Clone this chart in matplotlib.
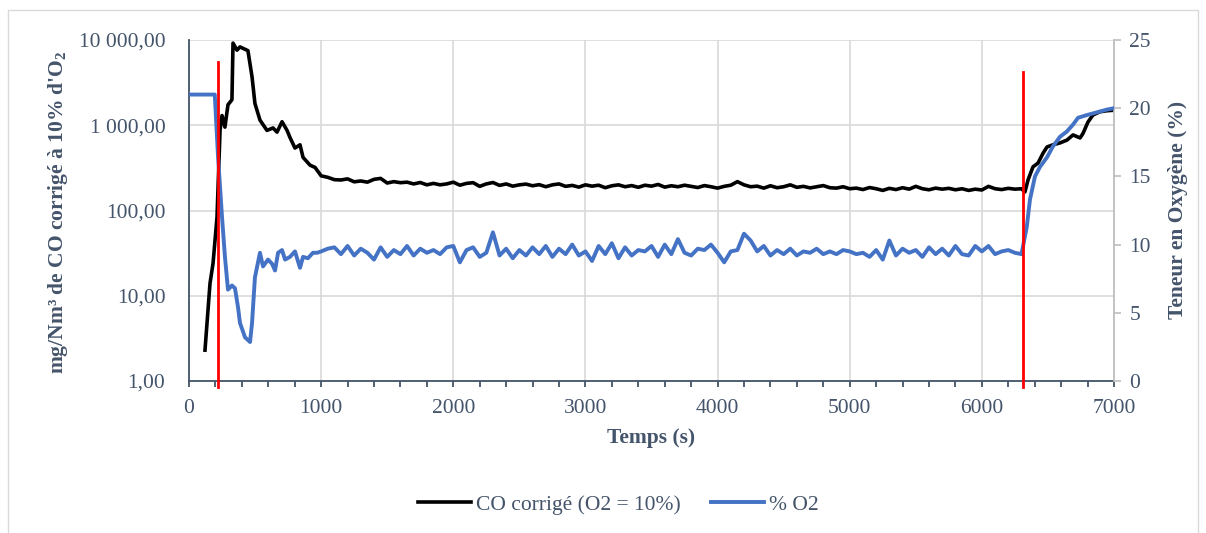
import matplotlib
matplotlib.use("Agg")
import matplotlib.pyplot as plt
import numpy as np
from matplotlib.ticker import FuncFormatter, MultipleLocator, NullLocator, FixedLocator
from matplotlib.patches import Rectangle

plt.rcParams['font.family'] = ['Liberation Serif', 'DejaVu Serif']
plt.rcParams['mathtext.fontset'] = 'custom'
plt.rcParams['mathtext.rm'] = 'Liberation Serif:bold'
plt.rcParams['mathtext.bf'] = 'Liberation Serif:bold'
plt.rcParams['mathtext.it'] = 'Liberation Serif:bold'

# --- data ---
# CO corrected (mg/Nm3), start-up phase
co_t_start = [121, 159, 182, 212, 235, 250, 272, 295, 325, 333, 363, 386, 446, 477, 499,
              537, 590, 636, 666, 704, 742, 764, 802, 840, 863, 916, 954]
co_v_start = [2.3, 14, 24, 84, 880, 1300, 950, 1740, 1990, 9200, 7600, 8300, 7500, 3700, 1800,
              1150, 870, 930, 830, 1100, 870, 720, 540, 590, 420, 340, 320]

# steady phase, every 50 s from 1000 to 6300
mid_t = list(range(1000, 6301, 50))
co_v_mid = [255, 245, 230, 228, 235, 217, 222, 215, 232, 238, 210, 218, 212, 215, 205, 213,
            200, 208, 200, 205, 215, 198, 208, 212, 192, 205, 213, 197, 205, 193, 200, 204,
            195, 201, 190, 200, 205, 192, 197, 188, 200, 193, 198, 185, 195, 200, 190, 196,
            187, 198, 193, 202, 188, 195, 190, 198, 192, 186, 196, 190, 183, 192, 198, 218,
            200, 190, 193, 183, 195, 185, 190, 200, 187, 192, 184, 190, 196, 185, 183, 190,
            180, 183, 176, 186, 180, 172, 182, 176, 185, 178, 192, 180, 175, 183, 178, 182,
            175, 180, 172, 178, 174, 192, 180, 176, 182, 178, 180]

# shut-down phase
co_t_end = [6326, 6350, 6387, 6425, 6463, 6493, 6538, 6591, 6644, 6690, 6743, 6765, 6803,
            6841, 6894, 6947, 7000]
co_v_end = [165, 230, 325, 360, 470, 556, 590, 620, 670, 770, 710, 800, 1090, 1320, 1440,
            1480, 1500]

# O2 (%)
o2_t_start = [0, 195, 220, 250, 272, 295, 325, 348, 371, 386, 424, 462, 477, 499, 537, 560,
              598, 628, 651, 674, 704, 727, 764, 802, 840, 863, 900, 938, 970]
o2_v_start = [21, 21, 16.4, 12.0, 9.1, 6.7, 7.0, 6.8, 5.4, 4.25, 3.2, 2.86, 4.25, 7.6, 9.4, 8.4,
              8.9, 8.6, 8.1, 9.4, 9.6, 8.9, 9.1, 9.5, 8.3, 9.1, 9.0, 9.4, 9.4]
o2_v_mid = [9.5, 9.7, 9.8, 9.3, 9.9, 9.2, 9.7, 9.4, 8.9, 9.8, 9.1, 9.6, 9.3, 9.9, 9.2, 9.7,
            9.4, 9.6, 9.3, 9.8, 9.9, 8.7, 9.6, 9.8, 9.1, 9.4, 10.9, 9.2, 9.7, 9.0, 9.6, 9.2,
            9.8, 9.3, 9.9, 9.1, 9.7, 9.3, 10.0, 9.2, 9.5, 8.8, 9.9, 9.3, 10.1, 9.0, 9.8, 9.2,
            9.6, 9.5, 9.9, 9.1, 10.0, 9.3, 10.4, 9.4, 9.2, 9.7, 9.6, 10.0, 9.4, 8.7, 9.5, 9.6,
            10.8, 10.3, 9.5, 9.9, 9.2, 9.6, 9.3, 9.7, 9.2, 9.5, 9.4, 9.7, 9.3, 9.5, 9.3, 9.6,
            9.5, 9.3, 9.4, 9.1, 9.6, 8.9, 10.3, 9.2, 9.7, 9.4, 9.6, 9.1, 9.8, 9.3, 9.7, 9.2,
            9.9, 9.3, 9.2, 9.9, 9.5, 9.9, 9.3, 9.5, 9.6, 9.4, 9.3]
o2_t_end = [6340, 6364, 6402, 6440, 6493, 6538, 6591, 6644, 6690, 6728, 6796, 6871, 6947, 7000]
o2_v_end = [11.3, 13.3, 15.0, 15.7, 16.4, 17.2, 17.9, 18.3, 18.8, 19.3, 19.5, 19.7, 19.9, 20.0]

phase_marks = [220, 6313]
phase_tops = [0.935, 0.906]

co_t = co_t_start + mid_t + co_t_end
co_v = co_v_start + co_v_mid + co_v_end
o2_t = o2_t_start + mid_t + o2_t_end
o2_v = o2_v_start + o2_v_mid + o2_v_end

txt = '#44546A'
grid = '#D9D9D9'
fs = 15.5

fig = plt.figure(figsize=(12.06, 5.33), dpi=100)
fig.patches.append(Rectangle((8 / 1206, -0.01), 1190 / 1206, 1 - 10 / 533 + 0.01,
                             transform=fig.transFigure, fill=False, ec='#D9D9D9', lw=1))
ax = fig.add_axes([189 / 1206, 1 - 381 / 533, 925 / 1206, 341 / 533])
ax2 = ax.twinx()

ax.plot(co_t, co_v, color='black', lw=2.6, label='CO corrigé (O2 = 10%)', zorder=3)
ax2.plot(o2_t, o2_v, color='#4472C4', lw=2.8, label='% O2', zorder=3)

for xm, top in zip(phase_marks, phase_tops):
    ax2.axvline(xm, ymin=-0.018, ymax=top, color='red', lw=2, clip_on=False, zorder=5)

ax.set_yscale('log')
ax.set_ylim(1, 10000)
ax.set_xlim(0, 7000)
ax2.set_ylim(0, 25)
ax.yaxis.set_major_locator(FixedLocator([1, 10, 100, 1000, 10000]))
ax.yaxis.set_minor_locator(NullLocator())
ax.yaxis.set_major_formatter(FuncFormatter(
    lambda v, p: f"{v:,.2f}".replace(",", " ").replace(".", ",")))
ax.xaxis.set_major_locator(MultipleLocator(1000))
ax.xaxis.set_minor_locator(MultipleLocator(200))
ax2.yaxis.set_major_locator(MultipleLocator(5))

ax.grid(True, which='major', color=grid, lw=1.2)
ax.set_axisbelow(True)

for s in ['top', 'right']:
    ax.spines[s].set_visible(False)
ax.spines['left'].set_color(txt)
ax.spines['bottom'].set_color(txt)
ax.spines['left'].set_linewidth(1.3)
ax.spines['bottom'].set_linewidth(1.3)
for s in ['top', 'left', 'bottom']:
    ax2.spines[s].set_visible(False)
ax2.spines['right'].set_color('#BFBFBF')
ax2.spines['right'].set_linewidth(1.3)

ax.tick_params(axis='x', which='both', direction='out', length=4, width=1.3, color=txt,
               labelsize=fs, labelcolor=txt, pad=9)
ax.tick_params(axis='y', length=0, labelsize=fs, labelcolor=txt, pad=17)
ax2.tick_params(axis='y', direction='out', length=5, width=1.2, color='#BFBFBF',
                labelsize=fs, labelcolor=txt, pad=6)

fig.text(58 / 1206, 1 - 212 / 533, "mg/Nm³ de CO corrigé à 10% d'O$_2$", rotation=90,
         ha='center', va='center', fontsize=fs, fontweight='bold', color=txt)
fig.text(1178 / 1206, 1 - 210 / 533, "Teneur en Oxygène (%)", rotation=90,
         ha='center', va='center', fontsize=fs, fontweight='bold', color=txt)
fig.text(651 / 1206, 1 - 438 / 533, "Temps (s)", ha='center', va='center',
         fontsize=fs, fontweight='bold', color=txt)

h1, l1 = ax.get_legend_handles_labels()
h2, l2 = ax2.get_legend_handles_labels()
leg = fig.legend(h1 + h2, l1 + l2, loc='center', bbox_to_anchor=(618 / 1206, 1 - 505 / 533),
                 ncol=2, frameon=False, fontsize=fs, handlelength=2.5, handletextpad=0.2,
                 columnspacing=1.4)
for t in leg.get_texts():
    t.set_color(txt)

fig.savefig('out.png', dpi=100)
